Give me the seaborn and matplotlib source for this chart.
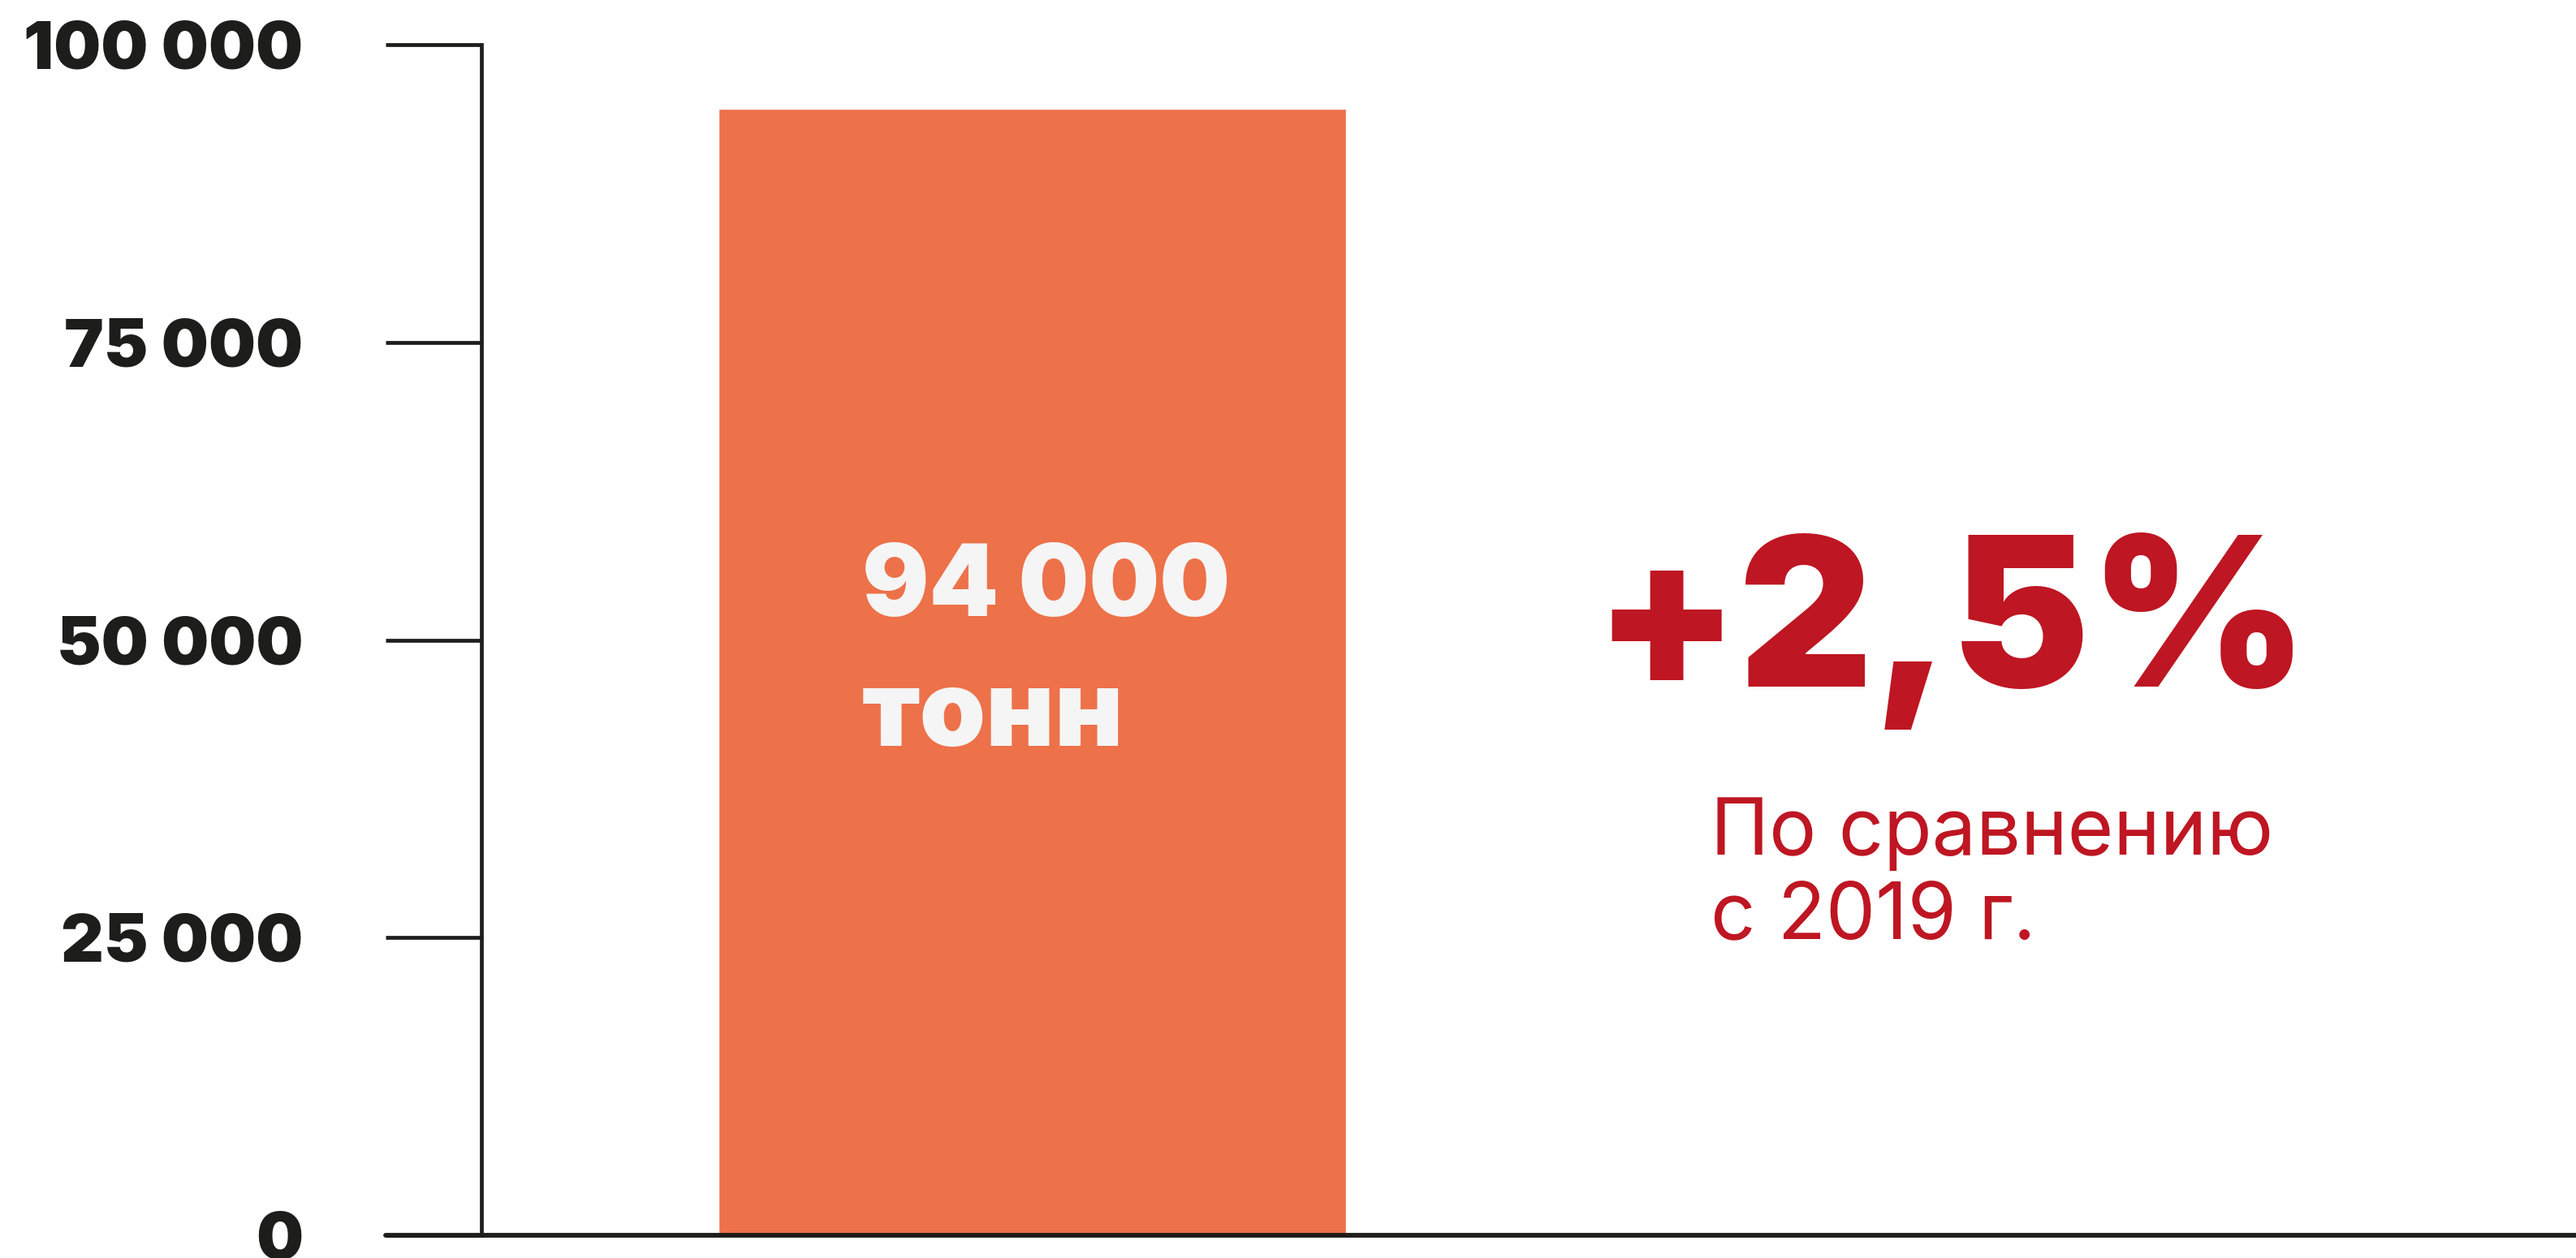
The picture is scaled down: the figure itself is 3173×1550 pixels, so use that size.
import matplotlib
matplotlib.use('Agg')
import matplotlib.pyplot as plt
import seaborn as sns

# data
categories = ['2020']
values = [94600]
y_ticks = [0, 25000, 50000, 75000, 100000]
y_tick_labels = ['0', '25 000', '50 000', '75 000', '100 000']
bar_label = ['94 000', 'тонн']
change_label = '+2,5%'
note_label = ['По сравнению', 'с 2019 г.']

bar_color = '#ED7149'
red = '#BE1622'
dark = '#1D1D1B'

sns.set_style('white')
plt.rcParams['font.family'] = ['Inter', 'DejaVu Sans']

fig = plt.figure(figsize=(31.73, 15.5), dpi=100)
ax = fig.add_axes([0.1869, 0.018, 0.8131, 0.9465])

sns.barplot(x=categories, y=values, color=bar_color, width=0.8,
            saturation=1, ax=ax)

ax.set_xlim(-0.702, 1.968)
ax.set_ylim(0, 100000)

# axes styling
for side in ['top', 'right', 'bottom']:
    ax.spines[side].set_visible(False)
ax.spines['left'].set_color(dark)
ax.spines['left'].set_linewidth(3.4)
ax.axhline(0, xmin=-0.0457, xmax=1, color=dark, lw=4.2, clip_on=False, zorder=5)

ax.set_xticks([])
ax.set_xlabel('')
ax.set_ylabel('')
ax.set_yticks(y_ticks)
ax.set_yticklabels(y_tick_labels, fontsize=59, fontweight='black', color=dark)
ax.tick_params(axis='y', direction='out', length=85, width=3.4, color=dark,
               pad=73, left=True)

# text inside the bar
ax.text(0.1818, 0.520, bar_label[0], transform=ax.transAxes, fontsize=88,
        fontweight='black', color='#F5F5F5', va='baseline', ha='left')
ax.text(0.1818, 0.411, bar_label[1], transform=ax.transAxes, fontsize=94,
        fontweight='black', color='#F5F5F5', va='baseline', ha='left')

# change annotation
ax.text(0.531, 0.461, change_label, transform=ax.transAxes, fontsize=185,
        fontweight='black', color=red, va='baseline', ha='left')
ax.text(0.587, 0.320, note_label[0], transform=ax.transAxes, fontsize=70,
        fontweight='normal', color=red, va='baseline', ha='left')
ax.text(0.587, 0.249, note_label[1], transform=ax.transAxes, fontsize=70,
        fontweight='normal', color=red, va='baseline', ha='left')

fig.savefig('out.png', dpi=100, facecolor='white')
